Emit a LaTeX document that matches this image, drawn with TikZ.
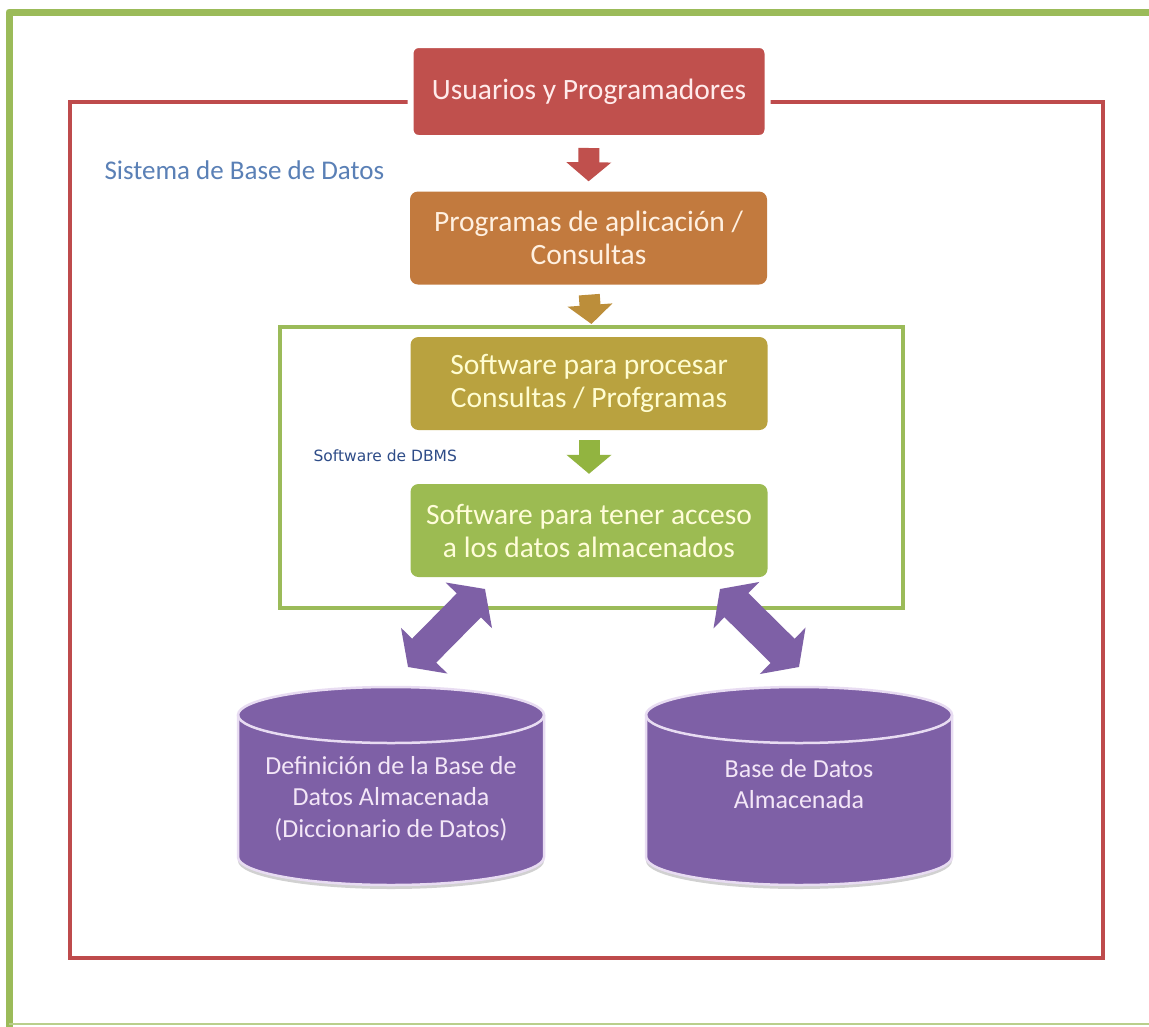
\documentclass[tikz,border=0pt]{standalone}
\usepackage{fontspec}
\setmainfont{Carlito}
\newfontfamily\labelfont{DejaVu Sans}
\usetikzlibrary{arrows.meta}

\definecolor{framegreen}{HTML}{9BBB59}
\definecolor{framered}{HTML}{BE4B4C}
\definecolor{boxred}{HTML}{C0504D}
\definecolor{boxorange}{HTML}{C27A3E}
\definecolor{boxolive}{HTML}{B9A23F}
\definecolor{boxgreen}{HTML}{9CBB52}
\definecolor{arrowgold}{HTML}{BC8E3A}
\definecolor{arrowgreen}{HTML}{92B440}
\definecolor{dbpurple}{HTML}{7E60A6}
\definecolor{dbrim}{HTML}{E8DCF2}
\definecolor{dbtext}{HTML}{F3E6F7}
\definecolor{titleblue}{HTML}{5A80B6}
\definecolor{dbmsblue}{HTML}{2E4C88}

% cylinder for a data store, centred at x = #1
\newcommand\dbcyl[1]{%
  \fill[black!40, opacity=.45]
    (#1-153,719) -- (#1-153,861)
    arc[start angle=180, end angle=360, x radius=153pt, y radius=28pt]
    -- (#1+153,719) -- cycle;
  \fill[dbpurple]
    (#1-153,715) -- (#1-153,857)
    arc[start angle=180, end angle=360, x radius=153pt, y radius=28pt]
    -- (#1+153,715)
    arc[start angle=0, end angle=180, x radius=153pt, y radius=28pt] -- cycle;
  \draw[dbrim, line width=2.5pt]
    (#1-153,715) -- (#1-153,857)
    arc[start angle=180, end angle=360, x radius=153pt, y radius=28pt]
    -- (#1+153,715);
  \draw[dbrim, line width=2.5pt] (#1,715) ellipse[x radius=153pt, y radius=28pt];
}

\begin{document}
\begin{tikzpicture}[x=1pt, y=-1pt,
  stagebox/.style={rectangle, rounded corners=8pt, minimum width=357pt,
    minimum height=93pt, inner sep=0pt, align=center,
    font=\fontsize{29.5}{33}\selectfont},
  blockdown/.style={line width=21pt, -{Triangle[length=19pt, width=44pt]}},
  blockboth/.style={dbpurple, line width=34pt,
    {Triangle[length=23pt, width=64pt]}-{Triangle[length=23pt, width=64pt]}},
  dbcaption/.style={align=center, text=dbtext,
    font=\fontsize{26}{31.5}\selectfont},
]
\useasboundingbox (0,0) rectangle (1149,1026);
\fill[white] (0,0) rectangle (1149,1026);

% outer page frame
\draw[framegreen, line width=7pt, line join=round] (9,1030) -- (9,12) -- (1155,12);
\draw[framegreen!70, line width=2.5pt] (9,1024) -- (1155,1024);

% database system frame
\node[draw=framered, line width=4pt, minimum width=1033pt, minimum height=856pt,
  inner sep=0pt] (sys) at (586.5,530) {};
\node[anchor=west, text=titleblue, font=\fontsize{27}{30}\selectfont]
  (systitle) at (101,170) {Sistema de Base de Datos};

% DBMS software frame
\node[draw=framegreen, line width=4pt, minimum width=623pt, minimum height=281pt,
  inner sep=0pt] (dbms) at (591.5,467.5) {};
\node[anchor=west, text=dbmsblue, font=\labelfont\fontsize{15.5}{18}\selectfont]
  (dbmstitle) at (310,456) {Software de DBMS};

% stages
\node[stagebox, fill=boxred, draw=white, line width=6pt, text={red!8!white}]
  (usr) at (589,91.5) {Usuarios y Programadores};
\node[stagebox, fill=boxorange, text={orange!12!white}]
  (prog) at (588.5,238) {Programas de aplicación /\\Consultas};
\node[stagebox, fill=boxolive, text={yellow!18!white}]
  (proc) at (589,383.5) {Software para procesar\\Consultas / Profgramas};
\node[stagebox, fill=boxgreen, text={yellow!15!white}]
  (acc) at (589,530.5) {Software para tener acceso\\a los datos almacenados};

% flow between stages
\draw[blockdown, boxred, shorten <=7pt, shorten >=10pt] (usr.south) -- (prog.north);
\draw[blockdown, arrowgold, shorten <=10pt, shorten >=1pt] (prog.south) -- (dbms.north);
\draw[blockdown, arrowgreen, shorten <=10pt, shorten >=10pt] (proc.south) -- (acc.north);

% data stores
\dbcyl{391}
\dbcyl{799}
\node[dbcaption] (dict) at (391,798.5)
  {Definición de la Base de\\Datos Almacenada\\(Diccionario de Datos)};
\node[dbcaption] (store) at (799,784)
  {Base de Datos\\Almacenada};

% access between DBMS and data stores
\coordinate (la) at (408,667);
\coordinate (lb) at (485,589);
\coordinate (ra) at (720,589);
\coordinate (rb) at (799,667);
\draw[blockboth] (la) -- (lb);
\draw[blockboth] (ra) -- (rb);
\end{tikzpicture}
\end{document}
